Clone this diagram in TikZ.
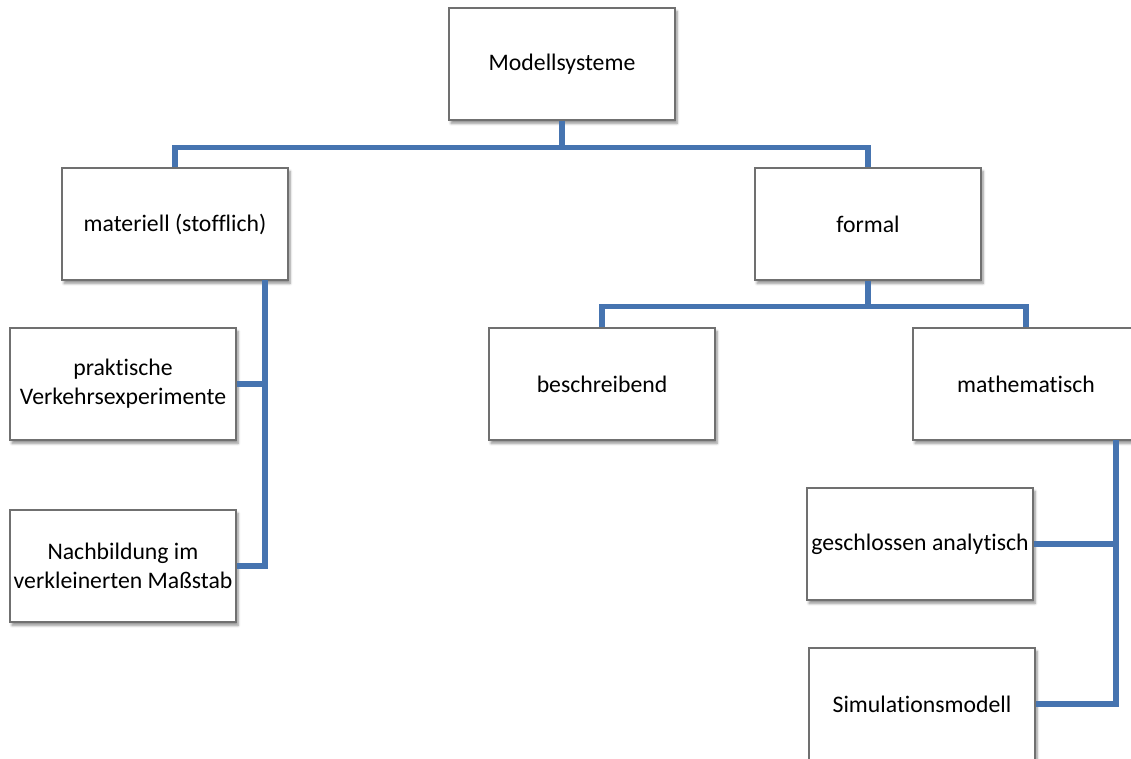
\documentclass[tikz,border=0pt]{standalone}
\usepackage{fontspec}
\setmainfont[Ligatures={NoCommon}]{Carlito}
\usetikzlibrary{shadows.blur}
\definecolor{linkblue}{RGB}{70,116,176}
\definecolor{boxgray}{RGB}{112,112,112}
\tikzset{
  modbox/.style={draw=boxgray, line width=0.8pt, fill=white, minimum width=169.5pt,
    minimum height=84pt, align=center, inner sep=0pt,
    font=\fontsize{17.8}{21.7}\selectfont,
    blur shadow={shadow xshift=1.5pt, shadow yshift=-2.5pt, shadow blur steps=6, shadow opacity=45}},
  link/.style={draw=linkblue, line width=3.8pt}
}
\begin{document}
\begin{tikzpicture}[x=0.75pt, y=-0.75pt]
	\useasboundingbox (0,0) rectangle (1131,758);
	\clip (0,0) rectangle (1131,758);

	\coordinate (matbus) at (265,280);
	\coordinate (mathbus) at (1116,440);

	\node [modbox] (modell) at (562,64) {Modellsysteme};
	\node [modbox] (mat) at (175,224) {materiell (stofflich)};
	\node [modbox] (formal) at (868,224) {formal};
	\node [modbox] (prakt) at (123,384) {praktische\\Verkehrsexperimente};
	\node [modbox] (nach) at (123,566) {Nachbildung im\\verkleinerten Maßstab};
	\node [modbox] (beschr) at (602,384) {beschreibend};
	\node [modbox] (math) at (1026,384) {mathematisch};
	\node [modbox] (geschl) at (920,544) {geschlossen analytisch};
	\node [modbox] (simul) at (922,704) {Simulationsmodell};

	% tree lines
	\draw [link] (modell.south) -- ++(0,27) -| (mat.north);
	\draw [link] (modell.south) -- ++(0,27) -| (formal.north);
	\draw [link] (formal.south) -- ++(0,26) -| (beschr.north);
	\draw [link] (formal.south) -- ++(0,26) -| (math.north);
	\draw [link] (matbus) |- (prakt.east);
	\draw [link] (matbus) |- (nach.east);
	\draw [link] (mathbus) |- (geschl.east);
	\draw [link] (mathbus) |- (simul.east);
\end{tikzpicture}
\end{document}
